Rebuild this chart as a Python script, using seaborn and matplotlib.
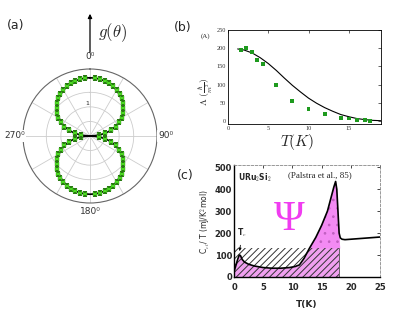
import matplotlib as mpl
import matplotlib.pyplot as plt
import numpy as np
import pandas as pd
import seaborn as sns
sns.set_style('white')
plt.rcParams['font.family'] = ['DejaVu Sans']
plt.rcParams['mathtext.fontset'] = 'cm'
plt.rcParams['hatch.linewidth'] = 0.7

#%% =============================== #
# data
# ================================= #
# (a) g(theta), one quadrant (deg), the rest follows by symmetry
quad_theta = [0, 5, 10, 15, 20, 25, 30, 35, 40, 45, 50, 55, 60, 65, 70, 75, 80, 85, 90]
quad_r = [2.00, 1.995, 1.980, 1.955, 1.919, 1.873, 1.817, 1.749, 1.670, 1.580,
          1.477, 1.361, 1.231, 1.085, 0.922, 0.738, 0.528, 0.285, 0.0]
pts_offset = [5, 10, 15, 20, 25, 30, 35, 40, 45, 50, 55, 60, 65, 70, 75, 80, 85]
pts_r = [1.99, 1.99, 1.96, 1.93, 1.89, 1.84, 1.77, 1.70, 1.61, 1.50,
         1.38, 1.25, 1.10, 0.94, 0.75, 0.54, 0.30]

# (b) Lambda vs T
b_T = [1.6, 2.2, 3.0, 3.6, 4.3, 6.0, 8.0, 10.0, 12.0, 14.0, 15.0, 16.0, 17.0, 17.6]
b_L = [194, 200, 190, 168, 157, 98, 55, 32, 19, 9, 7, 4, 2, 1]
b_fit_T = [1.2, 2, 3, 4, 5, 6, 7, 8, 9, 10, 11, 12, 13, 14, 15, 16, 17, 18, 19]
b_fit_L = [198, 195, 187, 174, 158, 139, 118, 98, 80, 63, 49, 37, 27, 18, 12, 7, 4, 2, 1]

# (c) C/T vs T, URu2Si2
c_T = [0, 0.3, 0.6, 0.9, 1.1, 1.4, 1.8, 2.5, 3.5, 5, 6.5, 8, 9.5, 10.5, 11.2, 12,
       12.9, 14, 15, 16, 16.7, 17.1, 17.4, 17.6, 17.8, 18.0, 18.2, 18.5, 19, 20,
       21, 22, 23, 24, 25]
c_C = [25, 50, 78, 100, 98, 80, 68, 58, 50, 43, 40, 40, 43, 48, 55, 85,
       130, 180, 235, 300, 370, 410, 435, 400, 300, 200, 178, 172, 170, 172,
       174, 176, 178, 180, 182]
c_level = 130
c_Tcut = 18.0

#%% =============================== #
# build tables
# ================================= #
r_full = quad_r + quad_r[-2::-1] + quad_r[1:] + quad_r[-2::-1]
th_full = list(range(0, 365, 5))
curve = pd.DataFrame({'theta': np.deg2rad(th_full), 'r': r_full})

pts_th = (pts_offset + [180 - o for o in pts_offset]
          + [180 + o for o in pts_offset] + [360 - o for o in pts_offset])
pts = pd.DataFrame({'theta': np.deg2rad(pts_th), 'r': pts_r * 4})

W, H = 415, 312
def px(x, y):
    return x / W, 1 - y / H

fig = plt.figure(figsize=(4.15, 3.12), dpi=100)

#%% =============================== #
# (a) polar
# ================================= #
ax = fig.add_axes([23 / W, 1 - 203 / H, 134 / W, 134 / H], projection='polar')
ax.set_theta_zero_location('N')
ax.set_theta_direction(-1)
sns.lineplot(data=curve, x='theta', y='r', ax=ax, sort=False, color='black',
             lw=1.2, zorder=3)
sns.scatterplot(data=pts, x='theta', y='r', ax=ax, marker='s', s=5,
                color='#4cdc22', edgecolor='#2a7a14', linewidth=0.25, zorder=4)
ax.set_rlim(0, 2.3)
ax.set_rticks([0.5, 1.0, 1.5])
ax.set_yticklabels([])
ax.set_xticks(np.deg2rad(np.arange(0, 360, 30)))
ax.set_xticklabels([])
ax.grid(color='#cccccc', lw=0.6)
ax.spines['polar'].set_color('#666666')
ax.spines['polar'].set_linewidth(0.8)
ax.set(xlabel='', ylabel='')
for ang, lab, rr in [(0, '0⁰', 2.72), (90, '90⁰', 2.62), (180, '180⁰', 2.6), (270, '270⁰', 2.6)]:
    ax.text(np.deg2rad(ang), rr, lab, fontsize=6.5, ha='center', va='center',
            color='#333333', clip_on=False,
            bbox=dict(facecolor='white', edgecolor='none', pad=1.0))
ax.text(np.deg2rad(-4), 1.99, '2', fontsize=4.5, ha='center', va='center')
ax.text(np.deg2rad(-5), 1.13, '1', fontsize=4.5, ha='center', va='center')

fig.add_artist(mpl.patches.FancyArrowPatch(px(90, 55), px(90, 11),
               transform=fig.transFigure, arrowstyle='-|>', mutation_scale=6,
               color='black', lw=0.9))
fig.text(*px(113, 33), r'$g(\theta)$', fontsize=12, ha='center', va='center')
fig.text(*px(16, 25), '(a)', fontsize=9, ha='center', va='center')

#%% =============================== #
# (b) Lambda(T)
# ================================= #
axb = fig.add_axes([228 / W, 1 - 124 / H, 153 / W, 94 / H])
sns.lineplot(x=b_fit_T, y=b_fit_L, ax=axb, color='black', lw=0.8)
sns.scatterplot(x=b_T, y=b_L, ax=axb, marker='s', s=8, color='#1e9a1e',
                edgecolor='none', zorder=4)
axb.set(xlim=(0, 19), ylim=(-8, 250), xticks=[0, 5, 10, 15],
        yticks=[0, 50, 100, 150, 200, 250])
axb.tick_params(direction='in', top=True, right=True, length=2, width=0.5,
                labelsize=4.5, pad=1.5, labelcolor='#333333')
for lab in axb.get_xticklabels() + axb.get_yticklabels():
    lab.set_family('Liberation Serif')
for s in axb.spines.values():
    s.set_linewidth(0.6)
    s.set_color('black')
fig.text(*px(297, 142), r'$T(K)$', fontsize=11, ha='center', va='center')
fig.text(*px(206, 92), r'$\Lambda\ (\frac{\hbar}{m^2})$', fontsize=7,
         rotation=90, ha='center', va='center')
fig.text(*px(205, 36), '(A)', fontsize=5, family='Liberation Serif',
         ha='center', va='center')
fig.text(*px(183, 27), '(b)', fontsize=9, ha='center', va='center')

#%% =============================== #
# (c) specific heat
# ================================= #
axc = fig.add_axes([234 / W, 1 - 277 / H, 146 / W, 112 / H])
T = np.array(c_T)
C = np.array(c_C)
inside = T <= c_Tcut
axc.fill_between(T, 0, C, where=inside, facecolor='#f0a0f0', lw=0, zorder=1)
axc.fill_between(T, c_level, C, where=inside & (C >= c_level), interpolate=True,
                 facecolor='#f38af3', edgecolor='#c060c0', hatch='..', lw=0, zorder=2)
axc.fill_between([0, c_Tcut], 0, c_level, facecolor='none', edgecolor='#333333',
                 hatch='/////', lw=0, zorder=2)
axc.plot([c_Tcut, c_Tcut], [0, c_level], color='#555555', lw=0.6, zorder=2)
sns.lineplot(x=c_T, y=c_C, ax=axc, sort=False, color='black', lw=1.2, zorder=4)
axc.set(xlim=(0, 25), ylim=(0, 510), xticks=[0, 5, 10, 15, 20, 25],
        yticks=[0, 100, 200, 300, 400, 500])
axc.tick_params(direction='in', top=True, right=True, length=2.5, width=0.6,
                labelsize=6, pad=1.5)
axc.tick_params(axis='x', pad=4)
for lab in axc.get_xticklabels() + axc.get_yticklabels():
    lab.set_fontweight('bold')
for side in ['left', 'bottom']:
    axc.spines[side].set_linewidth(1.0)
    axc.spines[side].set_color('black')
for side in ['top', 'right']:
    axc.spines[side].set_linewidth(0.6)
    axc.spines[side].set_color('#888888')
    axc.spines[side].set_linestyle((0, (3, 2)))

axc.text(3.6, 450, 'URu$_2$Si$_2$', fontsize=5.5, fontweight='bold',
         ha='center', va='center')
axc.text(14.7, 464, '(Palstra et al., 85)', fontsize=6.5,
         family='Liberation Serif', ha='center', va='center')
axc.text(9.5, 262, 'Ψ', fontsize=30, family='Liberation Serif', color='#f03cf0',
         ha='center', va='center')
axc.annotate('T$_c$', xy=(0.95, 118), xytext=(1.4, 200), fontsize=5.5,
             fontweight='bold', ha='center', va='center',
             arrowprops=dict(arrowstyle='-|>', lw=0.6, color='black',
                             mutation_scale=4, shrinkA=2, shrinkB=0))
fig.text(*px(307, 304), 'T(K)', fontsize=6.5, fontweight='bold',
         ha='center', va='center')
fig.text(*px(206, 222), 'C$_{el}$/ T (mJ/K$^2$mol)', fontsize=5.5,
         rotation=90, ha='center', va='center')
fig.text(*px(185, 175), '(c)', fontsize=9, ha='center', va='center')

fig.savefig('out.png', dpi=100)
